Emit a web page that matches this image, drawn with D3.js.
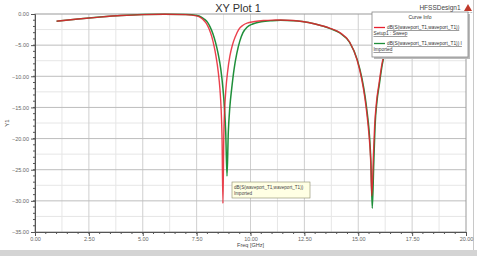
<!DOCTYPE html>
<html>
<head>
<meta charset="utf-8">
<script src="https://cdn.jsdelivr.net/npm/d3@7"></script>
<style>
  body { margin: 0; background: #fff; }
  svg { display: block; font-family: "Liberation Sans", Arial, sans-serif; }
</style>
</head>
<body>
<div id="chart"></div>
<script>
// frequency (GHz) / dB values
var simFreq = [1.0, 2.0, 3.0, 4.0, 5.0, 6.0, 7.0, 7.5, 7.65, 7.8, 7.95, 8.08, 8.2, 8.3, 8.4, 8.5, 8.58, 8.64, 8.68, 8.72,
  8.76, 8.8, 8.86, 8.94, 9.04, 9.16, 9.3, 9.45, 9.65, 9.9, 10.2, 10.6, 11.0, 11.4, 12.0, 12.4, 13.0, 13.7, 14.15, 14.6, 14.94,
  15.15, 15.3, 15.4, 15.5, 15.57, 15.63, 15.7, 15.76, 15.85, 15.95, 16.1, 16.25, 16.5, 17.0];
var simDb = [-1.15, -0.8, -0.5, -0.25, -0.1, -0.05, -0.1, -0.3, -0.5, -0.9, -1.5, -2.4, -3.6, -5.0, -6.8, -9.2, -12, -15.5, -20, -30.4,
  -20, -15.5, -12, -9.2, -6.8, -5.0, -3.6, -2.5, -1.8, -1.4, -1.2, -1.05, -0.98, -0.97, -1.05, -1.2, -1.6, -2.3, -3.0, -4.5, -7.3,
  -10.3, -13.3, -16, -19.5, -23, -29.2, -23, -18, -14, -11.5, -8, -5.8, -4, -2.5];

var impFreq = [1.0, 2.0, 3.0, 4.0, 5.0, 6.0, 7.0, 7.5, 7.7, 7.85, 8.0, 8.13, 8.26, 8.38, 8.5, 8.62, 8.72, 8.79, 8.85, 8.91,
  8.97, 9.04, 9.13, 9.24, 9.36, 9.5, 9.65, 9.85, 10.1, 10.5, 11.0, 11.4, 12.0, 12.4, 13.0, 13.7, 14.15, 14.6, 14.96,
  15.17, 15.32, 15.42, 15.52, 15.59, 15.65, 15.72, 15.78, 15.87, 15.97, 16.12, 16.27, 16.5, 17.0];
var impDb = [-1.15, -0.8, -0.5, -0.25, -0.1, -0.05, -0.1, -0.25, -0.45, -0.8, -1.3, -2.1, -3.2, -4.6, -6.4, -8.8, -11.9, -15, -19, -26,
  -19, -15, -11.9, -8.8, -6.4, -4.4, -3.0, -2.1, -1.6, -1.25, -1.08, -1.02, -1.08, -1.22, -1.62, -2.35, -3.05, -4.55, -7.4,
  -10.3, -13.3, -16, -19.5, -24, -31.2, -24, -18, -14, -11.5, -8, -5.8, -4, -2.5];

var xTicks = [0, 2.5, 5, 7.5, 10, 12.5, 15, 17.5, 20];
var yTicks = [0, -5, -10, -15, -20, -25, -30, -35];

var legendName = "dB(S(waveport_T1,waveport_T1))";

var W = 477, H = 256;
var margin = {top: 14, right: 11, bottom: 24, left: 35},
    width = W - margin.left - margin.right,
    height = H - margin.top - margin.bottom;

var svg = d3.select("#chart").append("svg")
    .attr("width", W)
    .attr("height", H);

// window chrome
svg.append("rect").attr("x", 0).attr("y", 250).attr("width", W).attr("height", 6).attr("fill", "#d4d4d4");
svg.append("line").attr("x1", 473.5).attr("x2", 473.5).attr("y1", 0).attr("y2", 250).attr("stroke", "#c8c8c8");

var g = svg.append("g").attr("transform", "translate(" + margin.left + "," + margin.top + ")");

var x = d3.scaleLinear().domain([0, 20]).range([0, width]);
var y = d3.scaleLinear().domain([-35, 0]).range([height, 0]);

// grid
g.append("g").selectAll("line").data(d3.range(1.25, 20, 2.5)).enter().append("line")
    .attr("x1", function (d) { return x(d); }).attr("x2", function (d) { return x(d); })
    .attr("y1", 0).attr("y2", height).attr("stroke", "#e6e6e6");
g.append("g").selectAll("line").data(d3.range(-2.5, -35, -5)).enter().append("line")
    .attr("y1", function (d) { return y(d); }).attr("y2", function (d) { return y(d); })
    .attr("x1", 0).attr("x2", width).attr("stroke", "#e6e6e6");
g.append("g").selectAll("line").data(xTicks.slice(1, -1)).enter().append("line")
    .attr("x1", function (d) { return x(d); }).attr("x2", function (d) { return x(d); })
    .attr("y1", 0).attr("y2", height).attr("stroke", "#cfcfcf");
g.append("g").selectAll("line").data(yTicks.slice(1, -1)).enter().append("line")
    .attr("y1", function (d) { return y(d); }).attr("y2", function (d) { return y(d); })
    .attr("x1", 0).attr("x2", width).attr("stroke", "#bdbdbd");

// frame
g.append("rect").attr("x", 0).attr("y", 0).attr("width", width).attr("height", height)
    .attr("fill", "none").attr("stroke", "#9a9a9a");

// axes
var yAxis = d3.axisLeft(y).tickValues(yTicks).tickSize(4).tickFormat(d3.format(".2f"));
var gy = g.append("g").call(yAxis);
var xAxis = d3.axisBottom(x).tickValues(xTicks).tickSize(4).tickFormat(d3.format(".2f"));
var gx = g.append("g").attr("transform", "translate(0," + height + ")").call(xAxis);
[gx, gy].forEach(function (a) {
  a.select(".domain").attr("stroke", "#555");
  a.selectAll(".tick line").attr("stroke", "#555");
  a.selectAll("text").attr("font-size", 5.5).attr("fill", "#666").attr("font-family", "Liberation Sans, Arial");
});
gy.selectAll("text").attr("x", -6);
gx.selectAll("text").attr("y", 5);

// minor ticks
g.append("g").selectAll("line").data(d3.range(-1, -35, -1)).enter().append("line")
    .attr("x1", -2).attr("x2", 0)
    .attr("y1", function (d) { return y(d); }).attr("y2", function (d) { return y(d); })
    .attr("stroke", "#555");
g.append("g").selectAll("line").data(d3.range(0.5, 20, 0.5)).enter().append("line")
    .attr("y1", height).attr("y2", height + 2)
    .attr("x1", function (d) { return x(d); }).attr("x2", function (d) { return x(d); })
    .attr("stroke", "#555");

// curves
var line = d3.line()
    .x(function (d) { return x(d[0]); })
    .y(function (d) { return y(d[1]); })
    .curve(d3.curveMonotoneX);

g.append("path").datum(d3.zip(impFreq, impDb))
    .attr("d", line).attr("fill", "none").attr("stroke", "#1f8f3a").attr("stroke-width", 1.5);
g.append("path").datum(d3.zip(simFreq, simDb))
    .attr("d", line).attr("fill", "none").attr("stroke", "#e8202e").attr("stroke-width", 1.4)
    .attr("stroke-opacity", 0.85);

// titles
svg.append("text").attr("x", 238).attr("y", 12).attr("text-anchor", "middle")
    .attr("font-size", 11).attr("fill", "#333").text("XY Plot 1");
svg.append("text").attr("x", 440).attr("y", 10).attr("text-anchor", "middle")
    .attr("font-size", 6.5).attr("fill", "#444").text("HFSSDesign1");
svg.append("path").attr("d", "M468,4 L472,11 L464,11 Z").attr("fill", "#c0392b");
svg.append("text").attr("x", 468).attr("y", 13).attr("text-anchor", "middle")
    .attr("font-size", 2.5).attr("fill", "#555").text("ANSYS");

svg.append("text").attr("transform", "translate(9," + (margin.top + height / 2) + ") rotate(-90)")
    .attr("text-anchor", "middle").attr("font-size", 6).attr("fill", "#444").text("Y1");
svg.append("text").attr("x", margin.left + width / 2).attr("y", 247).attr("text-anchor", "middle")
    .attr("font-size", 5.5).attr("fill", "#444").text("Freq [GHz]");

// legend
var lg = svg.append("g").attr("transform", "translate(372,12)");
lg.append("rect").attr("x", 2).attr("y", 2).attr("width", 96).attr("height", 45).attr("fill", "#bbb");
lg.append("rect").attr("x", 0).attr("y", 0).attr("width", 96).attr("height", 45)
    .attr("fill", "#fff").attr("stroke", "#888").attr("stroke-width", 0.8);
lg.append("text").attr("x", 48).attr("y", 7).attr("text-anchor", "middle")
    .attr("font-size", 5).attr("fill", "#333").text("Curve Info");
var entries = [
  {color: "#e8202e", name: legendName, sub: "Setup1 : Sweep", y: 17},
  {color: "#1f8f3a", name: legendName + " I", sub: "Imported", y: 33}
];
entries.forEach(function (e) {
  lg.append("line").attr("x1", 2).attr("x2", 13).attr("y1", e.y - 1.5).attr("y2", e.y - 1.5)
      .attr("stroke", e.color).attr("stroke-width", 1.3);
  lg.append("text").attr("x", 15).attr("y", e.y).attr("font-size", 4.8).attr("fill", "#333")
      .attr("text-decoration", "underline").text(e.name);
  lg.append("text").attr("x", 1.5).attr("y", e.y + 6).attr("font-size", 4.8).attr("fill", "#333")
      .attr("text-decoration", "underline").text(e.sub);
});

// marker tooltip
var tip = svg.append("g").attr("transform", "translate(232,182)");
tip.append("rect").attr("width", 78).attr("height", 16).attr("fill", "#ffffe4")
    .attr("stroke", "#8a8a6a").attr("stroke-width", 0.6);
tip.append("text").attr("x", 2).attr("y", 6.5).attr("font-size", 4.6).attr("fill", "#444").text(legendName);
tip.append("text").attr("x", 2).attr("y", 13).attr("font-size", 4.6).attr("fill", "#444").text("Imported");
</script>
</body>
</html>
